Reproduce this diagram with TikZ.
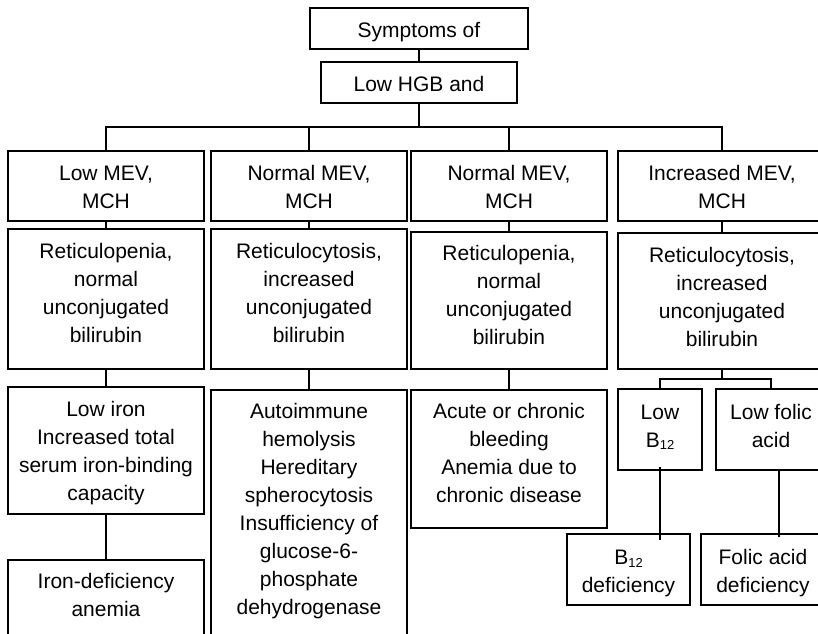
\documentclass[tikz,border=0pt]{standalone}
\usepackage{fontspec}
\setmainfont{Liberation Sans}
% small lowered index, as in B12
\newcommand\lowidx[1]{\raisebox{-2.5pt}{\fontsize{13}{13}\selectfont #1}}
% centred lines with extra room above (#1) and below (#2) the text block
\newcommand\cell[3]{\begin{tabular}{@{}c@{}}\rule{0pt}{\dimexpr19.6pt+#1\relax}#3\rule[\dimexpr-8.4pt-#2\relax]{0pt}{\dimexpr8.4pt+#2\relax}\end{tabular}}
\begin{document}
\begin{tikzpicture}[x=1pt,y=-1pt,
  box/.style={draw, line width=1.9pt, inner sep=0pt, outer sep=0pt,
              font=\fontsize{21}{28}\selectfont},
  link/.style={line width=1.7pt},
  trunk/.style={line width=2.8pt},
  busline/.style={line width=2.3pt}]
\useasboundingbox (0,0) rectangle (818,633);
\fill[white] (0,0) rectangle (818,633);
\clip (0,0) rectangle (818,633);

% header
\node[box, minimum width=218pt, minimum height=41pt] (top) at (419,28.5) {\cell{6pt}{0pt}{Symptoms of}};
\node[box, minimum width=196pt, minimum height=41pt] (hgb) at (419,82.5) {\cell{7pt}{0pt}{Low HGB and}};

% first row: red cell indices
\node[box, minimum width=196pt, minimum height=70pt] (r1c1) at (106,186) {\cell{5pt}{0pt}{Low MEV,\\MCH}};
\node[box, minimum width=196pt, minimum height=70pt] (r1c2) at (309,186) {\cell{5pt}{0pt}{Normal MEV,\\MCH}};
\node[box, minimum width=196pt, minimum height=70pt] (r1c3) at (509,186) {\cell{5pt}{0pt}{Normal MEV,\\MCH}};
\node[box, minimum width=208pt, minimum height=70pt] (r1c4) at (722,186) {\cell{5pt}{0pt}{Increased MEV,\\MCH}};

% second row: reticulocytes and bilirubin
\node[box, minimum width=196pt, minimum height=140pt] (r2c1) at (106,299)
  {\cell{0pt}{7.6pt}{Reticulopenia,\\normal\\unconjugated\\bilirubin}};
\node[box, minimum width=196pt, minimum height=140pt] (r2c2) at (309,299)
  {\cell{0pt}{7.6pt}{Reticulocytosis,\\increased\\unconjugated\\bilirubin}};
\node[box, minimum width=196pt, minimum height=137pt] (r2c3) at (509,300.5)
  {\cell{0pt}{6.4pt}{Reticulopenia,\\normal\\unconjugated\\bilirubin}};
\node[box, minimum width=208pt, minimum height=136pt] (r2c4) at (722,301)
  {\cell{0pt}{4pt}{Reticulocytosis,\\increased\\unconjugated\\bilirubin}};

% third row
\node[box, minimum width=196pt, minimum height=127pt] (r3c1) at (106,450.5)
  {\cell{5.6pt}{0pt}{Low iron\\Increased total\\serum iron-binding\\capacity}};
\node[box, anchor=north, minimum width=196pt, inner ysep=8.7pt] (r3c2) at (309,390)
  {\cell{0pt}{60pt}{Autoimmune\\hemolysis\\Hereditary\\spherocytosis\\Insufficiency of\\glucose-6-\\phosphate\\dehydrogenase}};
\node[box, minimum width=196pt, minimum height=138pt] (r3c3) at (509,459)
  {\cell{0pt}{7.6pt}{Acute or chronic\\bleeding\\Anemia due to\\chronic disease}};
\node[box, minimum width=84pt, minimum height=81pt] (lowb12) at (660,429.5) {\cell{0pt}{3.6pt}{Low\\B\lowidx{12}}};
\node[box, minimum width=110pt, minimum height=81pt] (lowfol) at (771,429.5) {\cell{0pt}{3.6pt}{Low folic\\acid}};

% diagnoses
\node[box, anchor=north, minimum width=196pt, inner ysep=8.7pt] (r4c1) at (106,560)
  {\cell{0pt}{60pt}{Iron-deficiency\\anemia}};
\node[box, minimum width=123pt, minimum height=71pt] (b12def) at (628.5,569.5) {\cell{7pt}{0pt}{B\lowidx{12}\\deficiency}};
\node[box, minimum width=124pt, minimum height=71pt] (foldef) at (763,569.5) {\cell{7pt}{0pt}{Folic acid\\deficiency}};

% connectors
\coordinate (busmid) at (419,127);
\coordinate (fork) at (722,379);
\draw[link] (top.south) -- (hgb.north);
\draw[trunk] (hgb.south) -- (busmid);
\draw[busline] (r1c1.north) |- (busmid) -| (r1c4.north);
\draw[link] (r1c2.north) -- (r1c2.north |- busmid);
\draw[link] (r1c3.north) -- (r1c3.north |- busmid);

\draw[link] (r1c1.south) -- (r2c1.north);
\draw[link] (r1c2.south) -- (r2c2.north);
\draw[link] (r1c3.south) -- (r2c3.north);
\draw[link] (r1c4.south) -- (r2c4.north);

\draw[link] (r2c1.south) -- (r3c1.north);
\draw[link] (r3c1.south) -- (r4c1.north);
\draw[link] (r2c2.south) -- (r3c2.north);
\draw[link] (r2c3.south) -- (r3c3.north);

\draw[link] (r2c4.south) -- (fork);
\draw[link] (lowb12.north) |- (fork) -| (lowfol.north);
\draw[link, shorten <=-3pt, shorten >=-6pt] (lowb12.south) -- (lowb12.south |- b12def.north);
\draw[link, shorten >=-3pt] ([xshift=8pt]lowfol.south) -- ([xshift=8pt]lowfol.south |- foldef.north);
\end{tikzpicture}
\end{document}
